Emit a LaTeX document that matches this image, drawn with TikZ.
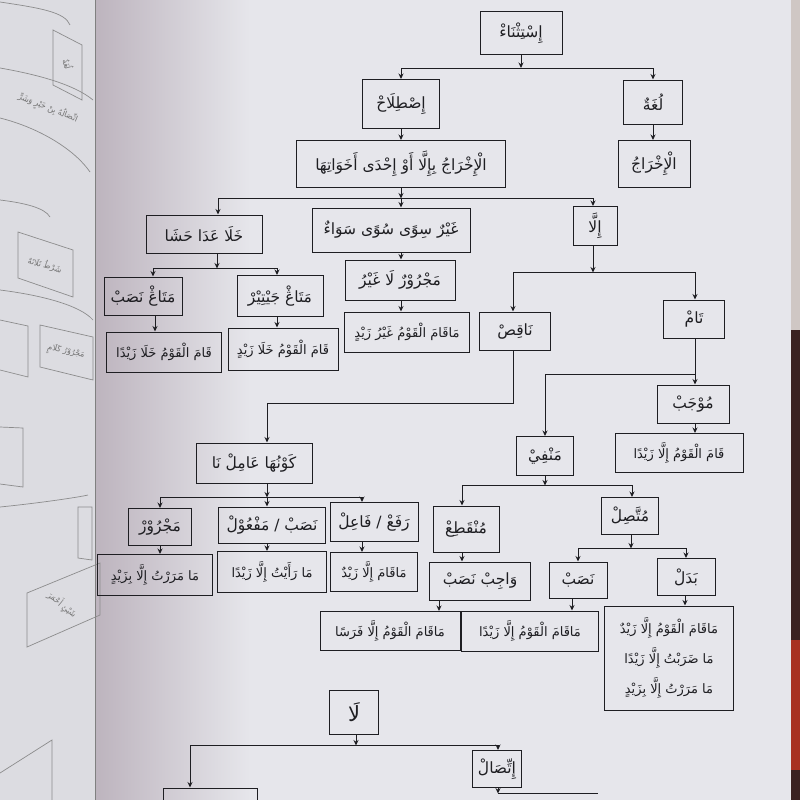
\documentclass[tikz,border=0pt]{standalone}
\usepackage{fontspec}
\TeXXeTstate=1
\newfontfamily\arabicfont[Script=Arabic]{DejaVu Sans}
\usetikzlibrary{arrows.meta,calc}
\newcommand\artxt[1]{\beginR #1\endR}
\definecolor{pagec}{HTML}{E6E6EB}
\definecolor{leftpg}{HTML}{DCDCE1}
\definecolor{shadowc}{HTML}{BDB4BE}
\definecolor{inkc}{HTML}{1E1E22}
\definecolor{edgea}{HTML}{CFC7C4}
\definecolor{edgeb}{HTML}{3A2222}
\definecolor{edgec}{HTML}{A83222}
\begin{document}
\begin{tikzpicture}[x=1pt,y=-1pt,
  box/.style={draw=inkc,line width=1pt,inner sep=1pt,text=inkc,
    font=\arabicfont\fontsize{15.5}{30}\selectfont},
  longtxt/.style={font=\arabicfont\fontsize{13}{30}\selectfont},
  arr/.style={draw=inkc,line width=0.9pt,-{Stealth[length=5.5pt,width=5pt]}},
  ln/.style={draw=inkc,line width=0.9pt},
  faint/.style={draw=black!45,line width=0.7pt},
  fainttxt/.style={text=black!55,font=\arabicfont\fontsize{8}{10}\selectfont}]
\useasboundingbox (0,0) rectangle (800,800);
% background
\fill[pagec] (0,0) rectangle (800,800);
\fill[leftpg] (0,0) rectangle (95,800);
\shade[left color=shadowc,right color=pagec] (95,0) rectangle (250,800);
\draw[black!50,line width=0.6pt] (95,0) -- (95,800);
\fill[edgea] (791,0) rectangle (800,330);
\fill[edgeb] (791,330) rectangle (800,800);
\fill[edgec] (791,640) rectangle (800,770);

% left page fragments
\draw[faint] (0,2) .. controls (40,8) and (65,12) .. (70,25);
\draw[faint] (53,30) -- (82,45) -- (82,100) -- (53,85) -- cycle;
\node[fainttxt,rotate=-75] (lp1) at (68,64) {\artxt{لُغَةٌ}};
\draw[faint] (0,68) .. controls (40,75) and (75,85) .. (93,100);
\draw[faint] (0,118) .. controls (40,128) and (75,150) .. (90,172);
\node[fainttxt,rotate=-22] (lp2) at (48,108) {\artxt{اتِّصَالُهُ بِنْ خَيْرٍ وَشَرٍّ}};
\draw[faint] (0,200) .. controls (25,203) and (45,208) .. (50,217);
\draw[faint] (18,232) -- (73,250) -- (73,297) -- (18,278) -- cycle;
\node[fainttxt,rotate=-15] (lp3) at (45,265) {\artxt{شَرْطُ ثَلَاثَةٌ}};
\draw[faint] (0,290) .. controls (40,295) and (80,305) .. (93,320);
\draw[faint] (40,325) -- (93,337) -- (93,380) -- (40,367) -- cycle;
\node[fainttxt,rotate=-12] (lp4) at (66,352) {\artxt{مَجْرُوْرُ كَلَامٍ}};
\draw[faint] (0,320) -- (28,326) -- (28,377) -- (0,370);
\draw[faint] (0,427) -- (23,428) -- (23,487) -- (0,484);
\draw[faint] (0,507) .. controls (40,503) and (80,497) .. (88,495);
\draw[faint] (78,507) -- (92,507) -- (92,560) -- (78,558) -- cycle;
\draw[faint] (27,593) -- (100,563) -- (100,615) -- (27,647) -- cycle;
\node[fainttxt,rotate=-40] (lp5) at (62,605) {\artxt{شَيْئٍ أَحْمَرَ}};
\draw[faint] (0,773) -- (52,740) -- (52,800);

% nodes
\node[box,minimum width=82,minimum height=43] (ist) at (521,33) {\artxt{إِسْتِثْنَاءْ}};
\node[box,minimum width=77,minimum height=49] (istilah) at (401,104) {\artxt{إِصْطِلَاحْ}};
\node[box,minimum width=59,minimum height=44] (lugha) at (653,102) {\artxt{لُغَةٌ}};
\node[box,minimum width=72,minimum height=47] (ikhraj) at (654,164) {\artxt{الْإِخْرَاجُ}};
\node[box,minimum width=209,minimum height=47] (ikhrajilla) at (401,164) {\artxt{الْإِخْرَاجُ بِإِلَّا أَوْ إِحْدَى أَخَوَاتِهَا}};
\node[box,minimum width=116,minimum height=38] (khala) at (204,234) {\artxt{خَلَا عَدَا حَشَا}};
\node[box,minimum width=158,minimum height=44] (ghair) at (391,230) {\artxt{غَيْرٌ سِوًى سُوًى سَوَاءٌ}};
\node[box,minimum width=44,minimum height=39] (illa) at (595,226) {\artxt{إِلَّا}};
\node[box,minimum width=110,minimum height=40] (majrurla) at (400,280) {\artxt{مَجْرُوْرٌ لَا غَيْرُ}};
\node[box,longtxt,minimum width=125,minimum height=40] (maqamghair) at (407,332) {\artxt{مَاقَامَ الْقَوْمُ غَيْرُ زَيْدٍ}};
\node[box,minimum width=78,minimum height=38] (matn) at (143,296) {\artxt{مَتَاڠْ نَصَبْ}};
\node[box,minimum width=86,minimum height=41] (matj) at (280,296) {\artxt{مَتَاڠْ جَيْتِيْرْ}};
\node[box,longtxt,minimum width=115,minimum height=40] (qk1) at (164,352) {\artxt{قَامَ الْقَوْمُ خَلَا زَيْدًا}};
\node[box,longtxt,minimum width=110,minimum height=42] (qk2) at (283,349) {\artxt{قَامَ الْقَوْمُ خَلَا زَيْدٍ}};
\node[box,minimum width=71,minimum height=38] (naqis) at (515,331) {\artxt{نَاقِصْ}};
\node[box,minimum width=61,minimum height=38] (tam) at (694,319) {\artxt{تَامْ}};
\node[box,minimum width=72,minimum height=38] (mujab) at (693,404) {\artxt{مُوْجَبْ}};
\node[box,longtxt,minimum width=128,minimum height=39] (qamilla) at (679,453) {\artxt{قَامَ الْقَوْمُ إِلَّا زَيْدًا}};
\node[box,minimum width=57,minimum height=39] (manfi) at (545,456) {\artxt{مَنْفِيْ}};
\node[box,minimum width=116,minimum height=40] (kawn) at (254,463) {\artxt{كَوْنُهَا عَامِلْ نَا}};
\node[box,minimum width=63,minimum height=37] (majrur) at (160,527) {\artxt{مَجْرُوْرْ}};
\node[box,minimum width=107,minimum height=36] (nasabmaf) at (272,525) {\artxt{نَصَبْ / مَفْعُوْلْ}};
\node[box,minimum width=88,minimum height=39] (rafa) at (374,522) {\artxt{رَفَعْ / فَاعِلْ}};
\node[box,longtxt,minimum width=115,minimum height=41] (mamarar) at (155,575) {\artxt{مَا مَرَرْتُ إِلَّا بِزَيْدٍ}};
\node[box,longtxt,minimum width=109,minimum height=41] (maraait) at (272,572) {\artxt{مَا رَأَيْتُ إِلَّا زَيْدًا}};
\node[box,longtxt,minimum width=87,minimum height=39] (maqamilla) at (374,572) {\artxt{مَاقَامَ إِلَّا زَيْدٌ}};
\node[box,minimum width=66,minimum height=46] (munq) at (466,529) {\artxt{مُنْقَطِعْ}};
\node[box,minimum width=57,minimum height=37] (mutt) at (630,516) {\artxt{مُتَّصِلْ}};
\node[box,minimum width=101,minimum height=38] (wajib) at (480,581) {\artxt{وَاجِبْ نَصَبْ}};
\node[box,minimum width=58,minimum height=36] (nasab) at (578,580) {\artxt{نَصَبْ}};
\node[box,minimum width=58,minimum height=37] (badal) at (686,577) {\artxt{بَدَلْ}};
\node[box,longtxt,minimum width=140,minimum height=39] (faras) at (390,631) {\artxt{مَاقَامَ الْقَوْمُ إِلَّا فَرَسًا}};
\node[box,longtxt,minimum width=137,minimum height=40] (zaid2) at (530,631) {\artxt{مَاقَامَ الْقَوْمُ إِلَّا زَيْدًا}};
\node[box,longtxt,minimum width=129,minimum height=104,align=center] (badalbig) at (669,658)
  {\artxt{مَاقَامَ الْقَوْمُ إِلَّا زَيْدٌ}\\\artxt{مَا ضَرَبْتُ إِلَّا زَيْدًا}\\\artxt{مَا مَرَرْتُ إِلَّا بِزَيْدٍ}};
\node[box,minimum width=49,minimum height=44,font=\arabicfont\fontsize{21}{24}\selectfont] (la) at (354,712) {\artxt{لَا}};
\node[box,minimum width=49,minimum height=37] (ittisal) at (497,769) {\artxt{إِتِّصَالْ}};
\node[box,minimum width=94,minimum height=40] (bl) at (210,808) {};

% connectors
\draw[arr] (ist.south) -- ++(0,13) coordinate (j1);
\draw[arr] (j1) -| (istilah.north);
\draw[arr] (j1) -| (lugha.north);
\draw[arr] (istilah.south) -- (istilah.south |- ikhrajilla.north);
\draw[arr] (lugha.south) -- (lugha.south |- ikhraj.north);
\draw[arr] (ikhrajilla.south) -- ++(0,10.5) coordinate (j2);
\draw[arr] (j2) -| ([xshift=14]khala.north);
\draw[arr] (j2) -- ([xshift=10]ghair.north);
\draw[arr] (j2) -| ([xshift=-2]illa.north);
\draw[arr] ([xshift=10]ghair.south) -- ([xshift=10]ghair.south |- majrurla.north);
\draw[arr] ([xshift=1]majrurla.south) -- ([xshift=1]majrurla.south |- maqamghair.north);
\draw[arr] ([xshift=13]khala.south) -- ++(0,15) coordinate (j3);
\draw[arr] (j3) -| ([xshift=10]matn.north);
\draw[arr] (j3) -| ([xshift=-3]matj.north);
\draw[arr] ([xshift=12]matn.south) -- ([xshift=12]matn.south |- qk1.north);
\draw[arr] ([xshift=-3]matj.south) -- ([xshift=-3]matj.south |- qk2.north);
\draw[arr] ([xshift=-2]illa.south) -- ++(0,26.5) coordinate (j4);
\draw[arr] (j4) -| ([xshift=-2]naqis.north);
\draw[arr] (j4) -| ([xshift=1]tam.north);
\draw[ln] ([xshift=1]tam.south) -- ++(0,36) coordinate (j5);
\draw[arr] (j5) -- (j5 |- mujab.north);
\draw[arr] (j5) -| (manfi.north);
\draw[arr] (j5 |- mujab.south) -- (j5 |- qamilla.north);
\draw[arr] ([xshift=-2]naqis.south) -- ++(0,53) -| ([xshift=13]kawn.north);
\draw[arr] ([xshift=13]kawn.south) -- ++(0,14) coordinate (j6);
\draw[arr] (j6) -| (majrur.north);
\draw[arr] (j6) -- (j6 |- nasabmaf.north);
\draw[arr] (j6) -| ([xshift=-12]rafa.north);
\draw[arr] (majrur.south) -- (majrur.south |- mamarar.north);
\draw[arr] ([xshift=-5]nasabmaf.south) -- ([xshift=-5]nasabmaf.south |- maraait.north);
\draw[arr] ([xshift=-12]rafa.south) -- ([xshift=-12]rafa.south |- maqamilla.north);
\draw[arr] (manfi.south) -- ++(0,9.5) coordinate (j7);
\draw[arr] (j7) -| ([xshift=-4]munq.north);
\draw[arr] (j7) -| ([xshift=2]mutt.north);
\draw[arr] ([xshift=1]mutt.south) -- ++(0,13.5) coordinate (j8);
\draw[arr] (j8) -| (nasab.north);
\draw[arr] (j8) -| (badal.north);
\draw[arr] ([xshift=-4]munq.south) -- ([xshift=-4]munq.south |- wajib.north);
\draw[arr] ([xshift=-41]wajib.south) -- ([xshift=-41]wajib.south |- faras.north);
\draw[arr] ([xshift=-6]nasab.south) -- ([xshift=-6]nasab.south |- zaid2.north);
\draw[arr] ([xshift=-1]badal.south) -- ([xshift=-1]badal.south |- badalbig.north);
\draw[arr] ([xshift=2]la.south) -- ++(0,11) coordinate (j9);
\draw[arr] (j9) -| ([xshift=-20]bl.north);
\draw[arr] (j9) -| ([xshift=1]ittisal.north);
\draw[arr] ([xshift=1]ittisal.south) -- ++(0,5.5) coordinate (j10);
\draw[ln] (j10) -- ++(100,0) coordinate (j10e);
\end{tikzpicture}
\end{document}
